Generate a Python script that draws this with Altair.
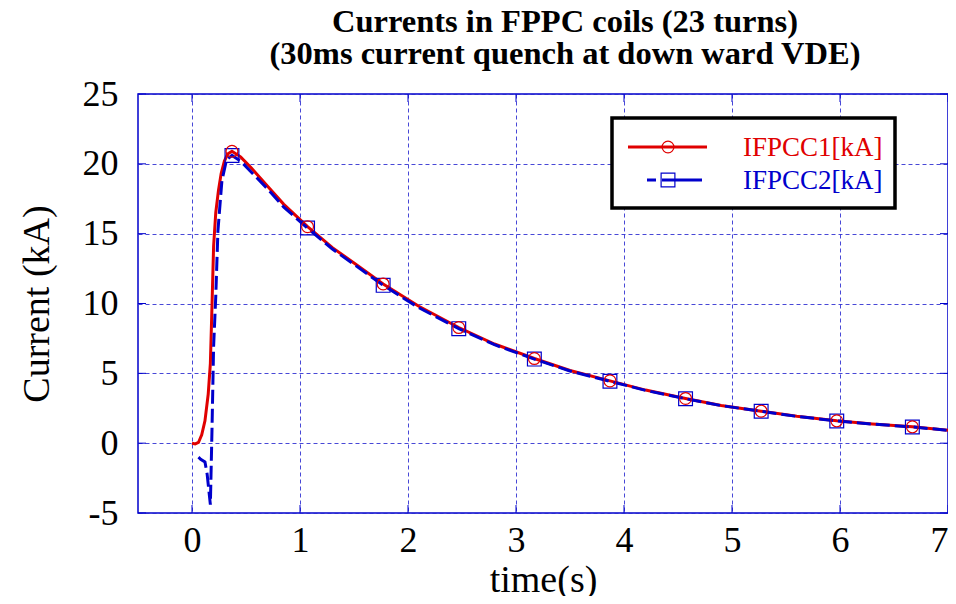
import altair as alt
import pandas as pd

# ---- data ----
t_red = [0, 0.03, 0.06, 0.09, 0.12, 0.15, 0.17, 0.185, 0.2, 0.22, 0.245, 0.27, 0.3, 0.33, 0.37,
         0.45, 0.55, 0.7, 0.85, 1.07, 1.3, 1.5, 1.77, 2.1, 2.47, 2.8, 3.17, 3.5, 3.87, 4.2,
         4.57, 4.9, 5.27, 5.6, 5.97, 6.3, 6.67, 7.0]
i_red = [0, -0.05, 0.05, 0.6, 1.6, 3.5, 5.7, 9.8, 14.1, 16.5, 18.1, 19.3, 20.2, 20.7, 20.9,
         20.5, 19.7, 18.4, 17.1, 15.5, 14.0, 12.9, 11.4, 9.8, 8.28, 7.1, 6.06, 5.2, 4.46, 3.8,
         3.2, 2.7, 2.29, 1.93, 1.6, 1.38, 1.17, 0.93]

t_blue = [0.06, 0.08, 0.12, 0.14, 0.17, 0.185, 0.2, 0.22, 0.24, 0.277, 0.32, 0.37,
          0.45, 0.55, 0.7, 0.85, 1.07, 1.3, 1.5, 1.77, 2.1, 2.47, 2.8, 3.17, 3.5, 3.87, 4.2,
          4.57, 4.9, 5.27, 5.6, 5.97, 6.3, 6.67, 7.0]
i_blue = [-1.0, -1.15, -1.35, -2.2, -4.4, 0.9, 6.9, 10.5, 15.2, 18.8, 20.3, 20.6,
          20.2, 19.4, 18.2, 16.9, 15.4, 13.9, 12.8, 11.3, 9.7, 8.2, 7.05, 6.02, 5.17, 4.43, 3.78,
          3.18, 2.69, 2.28, 1.92, 1.59, 1.37, 1.16, 0.92]

t_marks = [0.37, 1.07, 1.77, 2.47, 3.17, 3.87, 4.57, 5.27, 5.97, 6.67]
i_marks_red = [20.9, 15.5, 11.4, 8.28, 6.06, 4.46, 3.2, 2.29, 1.6, 1.17]
i_marks_blue = [20.6, 15.4, 11.3, 8.2, 6.02, 4.43, 3.18, 2.28, 1.59, 1.16]

x_ticks = [0, 1, 2, 3, 4, 5, 6, 7]
y_ticks = [-5, 0, 5, 10, 15, 20, 25]

name_red = "IFPCC1[kA]"
name_blue = "IFPCC2[kA]"
title_lines = ["Currents in FPPC coils (23 turns)", "(30ms current quench at down ward VDE)"]

# ---- styling ----
RED = "#e00000"
BLUE = "#0000cc"
FONT = "Liberation Serif"
W, H = 810, 419

xs = alt.Scale(domain=[-0.5, 7], nice=False, zero=False)
ys = alt.Scale(domain=[-5, 25], nice=False, zero=False)

red_df = pd.DataFrame({"t": t_red, "i": i_red})
blue_df = pd.DataFrame({"t": t_blue, "i": i_blue})
mr_df = pd.DataFrame({"t": t_marks, "i": i_marks_red})
mb_df = pd.DataFrame({"t": t_marks, "i": i_marks_blue})
xt_df = pd.DataFrame({"t": x_ticks})
yt_df = pd.DataFrame({"i": y_ticks})
one = pd.DataFrame({"k": [0]})

x_enc = alt.X("t:Q", scale=xs,
              axis=alt.Axis(values=x_ticks, title="time(s)", labelPadding=10, titlePadding=3,
                            labelExpr="'' + datum.value"))
y_enc = alt.Y("i:Q", scale=ys,
              axis=alt.Axis(values=y_ticks, title="Current (kA)", labelPadding=20, titlePadding=26,
                            labelExpr="'' + datum.value"))

red_line = alt.Chart(red_df).mark_line(color=RED, strokeWidth=3, clip=True).encode(x=x_enc, y=y_enc)
blue_line = alt.Chart(blue_df).mark_line(color=BLUE, strokeWidth=3, strokeDash=[14, 5], clip=True).encode(
    x=alt.X("t:Q", scale=xs), y=alt.Y("i:Q", scale=ys))
blue_pts = alt.Chart(mb_df).mark_point(shape="square", size=190, filled=False, color=BLUE,
                                       strokeWidth=1.2, opacity=1).encode(
    x=alt.X("t:Q", scale=xs), y=alt.Y("i:Q", scale=ys))
red_pts = alt.Chart(mr_df).mark_point(shape="circle", size=140, filled=False, color=RED,
                                      strokeWidth=1.2, opacity=1).encode(
    x=alt.X("t:Q", scale=xs), y=alt.Y("i:Q", scale=ys))

TL = 8
tick_b = alt.Chart(xt_df).mark_rule(color=BLUE, strokeWidth=1).encode(
    x=alt.X("t:Q", scale=xs), y=alt.value(H), y2=alt.value(H - TL))
tick_t = alt.Chart(xt_df).mark_rule(color=BLUE, strokeWidth=1).encode(
    x=alt.X("t:Q", scale=xs), y=alt.value(0), y2=alt.value(TL))
tick_l = alt.Chart(yt_df).mark_rule(color=BLUE, strokeWidth=1).encode(
    y=alt.Y("i:Q", scale=ys), x=alt.value(0), x2=alt.value(TL))
tick_r = alt.Chart(yt_df).mark_rule(color=BLUE, strokeWidth=1).encode(
    y=alt.Y("i:Q", scale=ys), x=alt.value(W), x2=alt.value(W - TL))

# ---- legend box ----
leg_box = alt.Chart(one).mark_rect(fill="white", stroke="black", strokeWidth=3.5).encode(
    x=alt.value(474), x2=alt.value(757), y=alt.value(24), y2=alt.value(114))
leg_r_line = alt.Chart(one).mark_rule(color=RED, strokeWidth=3).encode(
    x=alt.value(490), x2=alt.value(569), y=alt.value(53))
leg_r_pt = alt.Chart(one).mark_point(shape="circle", size=140, filled=False, color=RED,
                                     strokeWidth=1.2, opacity=1).encode(x=alt.value(530), y=alt.value(53))
leg_r_txt = alt.Chart(one).mark_text(text=name_red, align="left", baseline="middle", font=FONT,
                                     fontSize=27, color=RED).encode(x=alt.value(605), y=alt.value(54))
leg_b_line = alt.Chart(one).mark_rule(color=BLUE, strokeWidth=3, strokeDash=[9, 6, 60, 0]).encode(
    x=alt.value(509), x2=alt.value(564), y=alt.value(86))
leg_b_pt = alt.Chart(one).mark_point(shape="square", size=190, filled=False, color=BLUE,
                                     strokeWidth=1.2, opacity=1).encode(x=alt.value(530), y=alt.value(86))
leg_b_txt = alt.Chart(one).mark_text(text=name_blue, align="left", baseline="middle", font=FONT,
                                     fontSize=27, color=BLUE).encode(x=alt.value(605), y=alt.value(87))

chart = alt.layer(
    red_line, blue_line, blue_pts, red_pts,
    tick_b, tick_t, tick_l, tick_r,
    leg_box, leg_r_line, leg_r_pt, leg_r_txt, leg_b_line, leg_b_pt, leg_b_txt,
).properties(
    width=W, height=H,
    autosize=alt.AutoSizeParams(type="none"),
    padding={"left": 130, "top": 86, "right": 0, "bottom": 83},
    title=alt.TitleParams(text=title_lines, font=FONT, fontSize=32.5, fontWeight="bold",
                          lineHeight=32, anchor="middle", offset=6, dx=22, color="black"),
).configure_view(
    stroke=BLUE, strokeWidth=1.5
).configure_axis(
    domain=False, ticks=False,
    grid=True, gridColor="#2828d0", gridDash=[4, 3], gridWidth=1, gridOpacity=0.85,
    labelFont=FONT, labelFontSize=36, labelColor="black",
    titleFont=FONT, titleFontSize=38, titleFontWeight="normal", titleColor="black",
)

chart.save("out.html", embed_options={"renderer": "svg", "actions": False})
